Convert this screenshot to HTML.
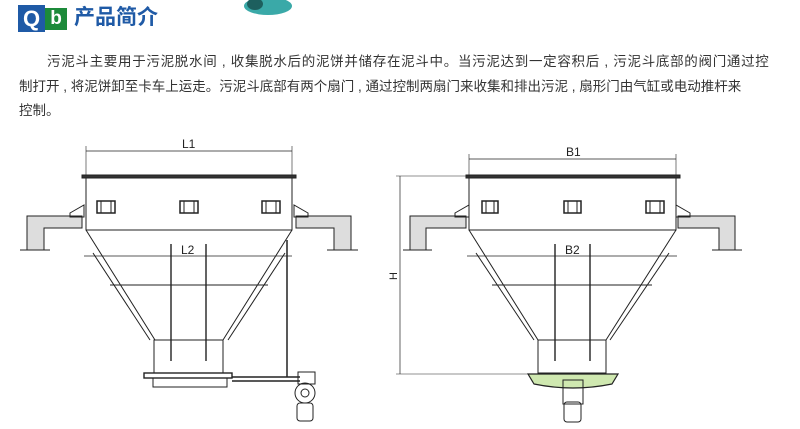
<!DOCTYPE html>
<html><head><meta charset="utf-8"><style>
body{margin:0;width:800px;height:429px;background:#fff;overflow:hidden;position:relative;font-family:"Liberation Sans","Noto Sans CJK SC",sans-serif}
.q{position:absolute;left:18px;top:5px;width:27px;height:27px;background:#1f5aa6;color:#fff;font:bold 22px "Liberation Sans",sans-serif;text-align:center;line-height:27px}
.b{position:absolute;left:45px;top:8px;width:22px;height:22px;background:#1c8a3a;color:#fff;font:bold 19px "Liberation Sans",sans-serif;text-align:center;line-height:22px}
.t{position:absolute;left:74px;top:4px;font-size:21px;font-weight:bold;color:#1f5aa6;line-height:28px}
.l{position:absolute;font-size:13.5px;color:#333;white-space:nowrap;line-height:20px}
svg{position:absolute;left:0;top:0}
</style></head><body>
<div class="q">Q</div><div class="b">b</div><div class="t">产品简介</div>
<div class="l" style="left:47px;top:52px;letter-spacing:0.7px">污泥斗主要用于污泥脱水间 , 收集脱水后的泥饼并储存在泥斗中。当污泥达到一定容积后 , 污泥斗底部的阀门通过控</div>
<div class="l" style="left:19px;top:77px;letter-spacing:0px">制打开 , 将泥饼卸至卡车上运走。污泥斗底部有两个扇门 , 通过控制两扇门来收集和排出污泥 , 扇形门由气缸或电动推杆来</div>
<div class="l" style="left:19px;top:101px">控制。</div>
<svg width="800" height="429" viewBox="0 0 800 429" fill="none" stroke="#222" stroke-width="1">
<ellipse cx="268" cy="6" rx="24" ry="9" fill="#3aa9a8" stroke="none"/>
<ellipse cx="255" cy="4" rx="8" ry="6" fill="#1d5f5e" stroke="none"/>
<g>
<line x1="86" y1="151" x2="292" y2="151" stroke-width=".7"/>
<line x1="86" y1="146" x2="86" y2="176" stroke-width=".6"/><line x1="292" y1="146" x2="292" y2="176" stroke-width=".6"/>
<text x="182" y="148" font-size="12" fill="#222" stroke="none" font-family="Liberation Sans">L1</text>
<rect x="82" y="175" width="214" height="3" fill="#333"/>
<rect x="86" y="178" width="206" height="52"/>
<g stroke-width="1.5"><rect x="97" y="201" width="18" height="12"/><rect x="180" y="201" width="18" height="12"/><rect x="262" y="201" width="18" height="12"/>
<path d="M101 201V213M111 201V213M184 201V213M194 201V213M266 201V213M276 201V213" stroke-width="1"/></g>
<path d="M27 216H82V228H44V250H27Z" fill="#ddd"/><path d="M296 216H351V250H334V228H296Z" fill="#ddd"/>
<path d="M70 213L84 205V217H70Z M308 213L294 205V217H308Z"/>
<path d="M20 250H50 M327 250H358"/>
<path d="M86 230L155 340 M292 230L223 340 M93 253L150 340 M285 253L228 340" />
<rect x="154" y="340" width="69" height="33"/>
<line x1="84" y1="256" x2="292" y2="256" stroke-width=".7"/>
<text x="181" y="254" font-size="12" fill="#222" stroke="none" font-family="Liberation Sans">L2</text>
<line x1="171" y1="244" x2="171" y2="361" stroke-width="1.4"/><line x1="206" y1="244" x2="206" y2="361" stroke-width="1.4"/>
<line x1="110" y1="285" x2="268" y2="285"/>
<rect x="144" y="373" width="88" height="5" stroke-width="1.4"/><rect x="153" y="378" width="74" height="9"/>
<line x1="287" y1="240" x2="287" y2="377" stroke-width="1.5"/>
<path d="M232 377H300 M232 381H300" stroke-width="1.4"/>
<circle cx="305" cy="393" r="10"/><circle cx="305" cy="393" r="4"/>
<rect x="298" y="372" width="17" height="12"/><rect x="297" y="403" width="16" height="18" rx="3"/>
</g>
<g>
<line x1="469" y1="159" x2="676" y2="159" stroke-width=".7"/>
<line x1="469" y1="154" x2="469" y2="176" stroke-width=".6"/><line x1="676" y1="154" x2="676" y2="176" stroke-width=".6"/>
<text x="566" y="156" font-size="12" fill="#222" stroke="none" font-family="Liberation Sans">B1</text>
<rect x="466" y="175" width="214" height="3" fill="#333"/>
<rect x="469" y="178" width="207" height="52"/>
<g stroke-width="1.5"><rect x="482" y="201" width="16" height="12"/><rect x="564" y="201" width="17" height="12"/><rect x="646" y="201" width="18" height="12"/>
<path d="M486 201V213M494 201V213M568 201V213M577 201V213M650 201V213M660 201V213" stroke-width="1"/></g>
<path d="M410 216H466V228H426V250H410Z" fill="#ddd"/><path d="M678 216H735V250H719V228H678Z" fill="#ddd"/>
<path d="M455 213L469 205V217H455Z M690 213L676 205V217H690Z"/>
<path d="M403 250H432 M712 250H742"/>
<line x1="400" y1="176" x2="400" y2="374" stroke-width=".7"/>
<path d="M396 176H470 M396 374H530" stroke-width=".6"/>
<text x="0" y="0" font-size="11" fill="#222" stroke="none" font-family="Liberation Sans" transform="translate(397,280) rotate(-90)">H</text>
<path d="M469 230L538 340 M676 230L606 340 M476 253L534 340 M669 253L610 340"/>
<rect x="538" y="340" width="68" height="33"/>
<line x1="467" y1="256" x2="677" y2="256" stroke-width=".7"/>
<text x="565" y="254" font-size="12" fill="#222" stroke="none" font-family="Liberation Sans">B2</text>
<line x1="555" y1="244" x2="555" y2="361" stroke-width="1.4"/><line x1="590" y1="244" x2="590" y2="361" stroke-width="1.4"/>
<line x1="492" y1="285" x2="652" y2="285"/>
<path d="M528 374H618L612 384Q573 392 534 384Z" fill="#cfe8b0" stroke-width="1.2"/>
<rect x="563" y="380" width="20" height="24"/><rect x="564" y="402" width="17" height="20" rx="3"/>
</g>
</svg>
</body></html>
